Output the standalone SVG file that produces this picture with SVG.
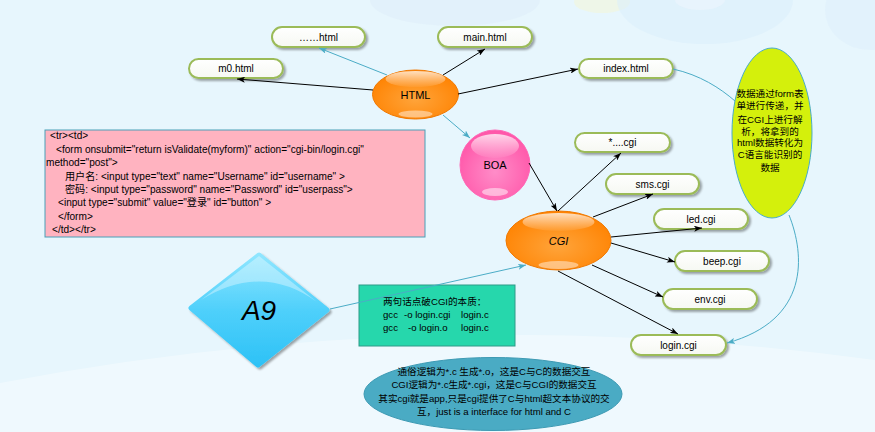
<svg xmlns="http://www.w3.org/2000/svg" width="875" height="432" viewBox="0 0 875 432">
<style>
text{font-family:"Liberation Sans","Noto Sans CJK SC",sans-serif;fill:#000}
.pill rect{fill:url(#pillg);stroke:#9bbb59;stroke-width:2;filter:url(#sh)}
.pill text{font-size:10px;text-anchor:middle}
.blk{stroke:#000;stroke-width:1;fill:none;marker-end:url(#ab)}
.tl{stroke:#4bacc6;stroke-width:1;fill:none;marker-end:url(#at)}
.tln{stroke:#4bacc6;stroke-width:1;fill:none}
.code{font-size:9.6px}
.pk{font-size:10.1px}
.mid{text-anchor:middle}
.shine{fill:url(#shineg)}
</style>
<defs>
<marker id="ab" markerWidth="8" markerHeight="6" refX="8" refY="3" orient="auto" markerUnits="userSpaceOnUse"><path d="M0,0 L8,3 L0,6 L2,3 Z" fill="#000"/></marker>
<marker id="at" markerWidth="8" markerHeight="6" refX="8" refY="3" orient="auto" markerUnits="userSpaceOnUse"><path d="M0,0 L8,3 L0,6 L2,3 Z" fill="#4bacc6"/></marker>
<linearGradient id="pillg" x1="0" y1="0" x2="0" y2="1"><stop offset="0" stop-color="#ffffff"/><stop offset="1" stop-color="#f6f8f2"/></linearGradient>
<radialGradient id="orng" cx="0.5" cy="0.6" r="0.6"><stop offset="0" stop-color="#ffa43a"/><stop offset="1" stop-color="#ff8200"/></radialGradient>
<radialGradient id="pinkg" cx="0.5" cy="0.6" r="0.6"><stop offset="0" stop-color="#ff8cc8"/><stop offset="1" stop-color="#ff55a8"/></radialGradient>
<linearGradient id="shineg" x1="0" y1="0" x2="0" y2="1"><stop offset="0" stop-color="#ffffff" stop-opacity="0.75"/><stop offset="1" stop-color="#ffffff" stop-opacity="0.05"/></linearGradient>
<linearGradient id="a9g" x1="0" y1="0" x2="0" y2="1"><stop offset="0" stop-color="#8fe6ff"/><stop offset="0.5" stop-color="#4fd0fb"/><stop offset="1" stop-color="#2ec2f6"/></linearGradient>
<filter id="sh" x="-20%" y="-30%" width="140%" height="170%"><feDropShadow dx="2" dy="2" stdDeviation="1.2" flood-color="#000" flood-opacity="0.35"/></filter>
</defs>
<rect width="875" height="432" fill="#e7f6fd"/>
<g id="background" fill="#ffffff">
<ellipse cx="455" cy="0" rx="85" ry="26" fill="#dcecf7" opacity="0.4"/>
<ellipse cx="602" cy="2" rx="28" ry="11" fill="#eef6e6" opacity="0.9"/>
<ellipse cx="705" cy="0" rx="88" ry="44" fill="#dbeefb" opacity="0.55"/>
<ellipse cx="700" cy="0" rx="25" ry="10" fill="#eaf4fc" opacity="0.8"/>
<ellipse cx="870" cy="10" rx="45" ry="40" fill="#dbeefb" opacity="0.4"/>
<path d="M0 383 Q 430 300 875 360 L875 432 L0 432 Z" opacity="0.35"/>
</g>
<g id="node-pinkbox">
<rect x="45" y="130" width="380" height="107" fill="#ffb3c0" stroke="#4a9fb8" stroke-width="1"/>
<text class="pk" x="50" y="139">&lt;tr&gt;&lt;td&gt;</text>
<text class="pk" x="56" y="153">&lt;form onsubmit="return isValidate(myform)" action="cgi-bin/login.cgi"</text>
<text class="pk" x="46" y="166">method="post"&gt;</text>
<text class="pk" x="65" y="180">用户名: &lt;input type="text" name="Username" id="username" &gt;</text>
<text class="pk" x="65" y="193">密码: &lt;input type="password" name="Password" id="userpass"&gt;</text>
<text class="pk" x="58" y="206">&lt;input type="submit" value="登录" id="button" &gt;</text>
<text class="pk" x="58" y="220">&lt;/form&gt;</text>
<text class="pk" x="52" y="233">&lt;/td&gt;&lt;/tr&gt;</text>
</g>
<g id="node-greenbox">
<rect x="359" y="285" width="156" height="61" fill="#26d7ac" stroke="#2f9a88" stroke-width="1"/>
<text class="code" x="383" y="305">两句话点破CGI的本质：</text>
<text class="code" y="318"><tspan x="383">gcc</tspan><tspan x="404">-o login.cgi</tspan><tspan x="461">login.c</tspan></text>
<text class="code" y="331"><tspan x="383">gcc</tspan><tspan x="408">-o login.o</tspan><tspan x="461">login.c</tspan></text>
</g>
<g id="node-note">
<ellipse cx="493" cy="394" rx="129" ry="36.5" fill="#4aabc4" stroke="#3d9ab3" stroke-width="1"/>
<text class="code mid" x="494" y="374.5">通俗逻辑为*.c 生成*.o，这是C与C的数据交互</text>
<text class="code mid" x="494" y="388">CGI逻辑为*.c生成*.cgi，这是C与CGI的数据交互</text>
<text class="code mid" x="494" y="401.5">其实cgi就是app,只是cgi提供了C与html超文本协议的交</text>
<text class="code mid" x="494" y="415">互，just is a interface for html and C</text>
</g>
<g id="node-yellow">
<ellipse cx="772" cy="133" rx="40" ry="85" fill="#d4f00c" stroke="#4bacc6" stroke-width="1"/>
<text class="code mid" x="770" y="97">数据通过form表</text>
<text class="code mid" x="770" y="109">单进行传递，并</text>
<text class="code mid" x="770" y="123">在CGI上进行解</text>
<text class="code mid" x="770" y="135">析，将拿到的</text>
<text class="code mid" x="770" y="146">html数据转化为</text>
<text class="code mid" x="770" y="158">C语言能识别的</text>
<text class="code mid" x="770" y="171">数据</text>
</g>
<g id="node-a9">
<polygon points="259,255 327,310 258,365 191,308" fill="url(#a9g)" stroke="url(#a9g)" stroke-width="5" stroke-linejoin="round" filter="url(#sh)"/>
<path d="M201 300 L259 256 L317 302 Q 262 262 201 300 Z" fill="#ffffff" opacity="0.35"/>
<text x="259" y="320" class="mid" font-size="28" font-style="italic">A9</text>
</g>
<g id="node-html">
<ellipse cx="415.5" cy="94.5" rx="43" ry="24.5" fill="url(#orng)" stroke="#f07800" stroke-width="1"/>
<ellipse class="shine" cx="415.5" cy="79" rx="30" ry="8"/>
<ellipse cx="415.5" cy="114" rx="17" ry="3.5" fill="#ffffff" opacity="0.45"/>
<text x="415.5" y="98.5" class="mid" font-size="11">HTML</text>
</g>
<g id="node-boa">
<circle cx="495" cy="165" r="35" fill="url(#pinkg)" stroke="#ff66b5" stroke-width="1"/>
<ellipse class="shine" cx="495" cy="146" rx="24" ry="12"/>
<ellipse cx="495" cy="192" rx="13" ry="4" fill="#ffffff" opacity="0.5"/>
<text x="495" y="169" class="mid" font-size="11">BOA</text>
</g>
<g id="node-cgi">
<ellipse cx="558.5" cy="240.5" rx="52.5" ry="29.5" fill="url(#orng)" stroke="#f07800" stroke-width="1"/>
<ellipse class="shine" cx="558.5" cy="222" rx="36" ry="9"/>
<ellipse cx="558.5" cy="265" rx="20" ry="4" fill="#ffffff" opacity="0.45"/>
<text x="558.5" y="244.5" class="mid" font-size="11" font-style="italic">CGI</text>
</g>
<g id="node-dotshtml" class="pill"><rect x="272" y="27" width="93" height="20" rx="10"/><text x="318.5" y="40.5">……html</text></g>
<g id="node-mainhtml" class="pill"><rect x="438" y="27" width="94" height="20" rx="10"/><text x="485" y="40.5">main.html</text></g>
<g id="node-m0html" class="pill"><rect x="189" y="59" width="94" height="19" rx="9.5"/><text x="236" y="72">m0.html</text></g>
<g id="node-indexhtml" class="pill"><rect x="579" y="59" width="94" height="19" rx="9.5"/><text x="626" y="72">index.html</text></g>
<g id="node-starcgi" class="pill"><rect x="575" y="133" width="95" height="19" rx="9.5"/><text x="622.5" y="146">*....cgi</text></g>
<g id="node-smscgi" class="pill"><rect x="606" y="174" width="93" height="20" rx="10"/><text x="652.5" y="187.5">sms.cgi</text></g>
<g id="node-ledcgi" class="pill"><rect x="654" y="209" width="94" height="20" rx="10"/><text x="701" y="222.5">led.cgi</text></g>
<g id="node-beepcgi" class="pill"><rect x="675" y="251" width="94" height="20" rx="10"/><text x="722" y="264.5">beep.cgi</text></g>
<g id="node-envcgi" class="pill"><rect x="663" y="289" width="94" height="20" rx="10"/><text x="710" y="302.5">env.cgi</text></g>
<g id="node-logincgi" class="pill"><rect x="631" y="335" width="95" height="20" rx="10"/><text x="678.5" y="348.5">login.cgi</text></g>
<g id="connectors">
<line class="blk" x1="373" y1="90" x2="237" y2="79"/>
<line class="tl" x1="387" y1="75" x2="319" y2="48"/>
<line class="blk" x1="443" y1="75" x2="485" y2="49"/>
<line class="blk" x1="458" y1="94" x2="578" y2="69"/>
<line class="tl" x1="443" y1="115" x2="470" y2="138"/>
<line class="blk" x1="529" y1="163" x2="557" y2="211"/>
<line class="blk" x1="558" y1="211" x2="621" y2="153"/>
<line class="blk" x1="593" y1="217" x2="653" y2="194"/>
<line class="blk" x1="611" y1="237" x2="702" y2="228"/>
<line class="blk" x1="611" y1="243" x2="675" y2="262"/>
<line class="blk" x1="592" y1="265" x2="663" y2="297"/>
<line class="blk" x1="558" y1="271" x2="678" y2="334"/>
<line class="tl" x1="330" y1="309" x2="526" y2="265"/>
<path class="tln" d="M673 69 C 700 75, 720 88, 735 101"/>
<path class="tl" d="M789 215 C 805 255, 810 320, 727 343"/>
</g>
</svg>
